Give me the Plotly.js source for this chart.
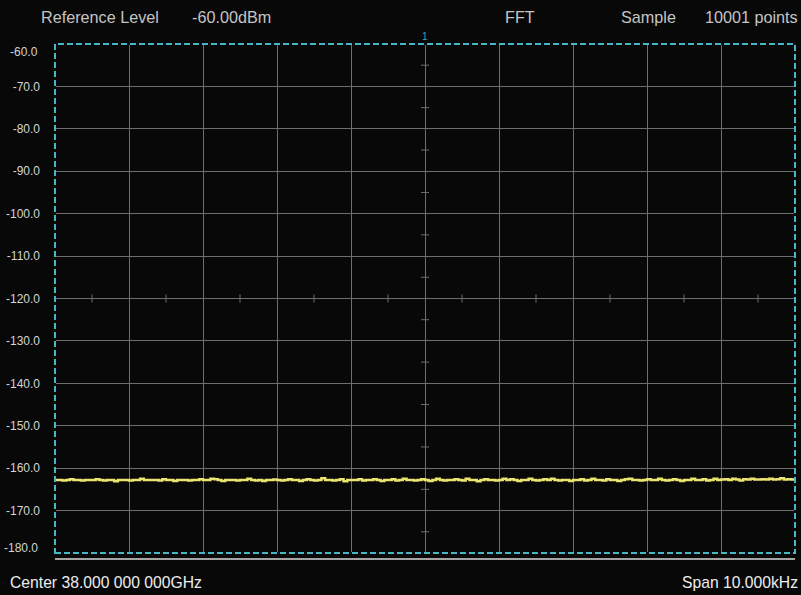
<!DOCTYPE html>
<html>
<head>
<meta charset="utf-8">
<script src="https://cdn.plot.ly/plotly-3.0.1.min.js"></script>
<style>
  html, body { margin: 0; padding: 0; background: #080808; }
  #chart { width: 801px; height: 595px; }
</style>
</head>
<body>
<div id="chart"></div>
<script>
// ---- Data ----
const centerHz = 38e9;          // Center 38.000 000 000GHz
const spanHz = 10000;           // Span 10.000kHz
const refLevel = -60;           // Reference Level -60.00dBm
const bottomLevel = -180;
const yTickValues = [-60, -70, -80, -90, -100, -110, -120, -130, -140, -150, -160, -170, -180];
const yTickLabels = ["-60.0", "-70.0", "-80.0", "-90.0", "-100.0", "-110.0", "-120.0", "-130.0", "-140.0", "-150.0", "-160.0", "-170.0", "-180.0"];
const headerLabels = ["Reference Level", "-60.00dBm", "FFT", "Sample", "10001 points"];
const footerLeft = "Center 38.000 000 000GHz";
const footerRight = "Span 10.000kHz";

// Trace levels (dBm), decimated reading of the noise floor, left to right
const traceLevels = [
  -162.8,-162.8,-162.9,-162.8,-162.6,-162.8,-162.8,-162.9,-162.8,-162.8,
  -162.8,-162.6,-162.8,-162.9,-162.8,-162.8,-163.1,-162.8,-162.8,-162.8,
  -162.9,-162.8,-162.8,-162.5,-162.8,-162.8,-162.8,-162.8,-162.9,-162.6,
  -162.8,-162.8,-163.0,-162.8,-162.8,-162.8,-162.9,-162.8,-162.8,-162.6,
  -162.8,-162.8,-162.5,-162.6,-162.8,-163.0,-162.8,-162.8,-162.8,-162.9,
  -162.8,-162.8,-162.5,-162.8,-162.9,-162.8,-163.0,-162.8,-162.8,-162.7,
  -162.8,-162.9,-162.8,-162.6,-162.8,-162.8,-163.0,-162.8,-162.6,-162.8,
  -162.9,-162.8,-162.4,-162.8,-162.8,-162.9,-162.8,-162.6,-163.1,-162.8,
  -162.8,-162.8,-162.6,-162.9,-162.8,-162.8,-162.6,-162.8,-163.0,-162.8,
  -162.8,-162.6,-162.9,-162.8,-162.5,-162.8,-162.8,-162.9,-162.8,-162.6,
  -162.8,-163.0,-162.8,-162.5,-162.8,-162.9,-162.8,-162.8,-162.6,-162.8,
  -162.9,-162.5,-162.8,-162.8,-163.1,-162.8,-162.6,-162.8,-162.8,-162.9,
  -162.8,-162.5,-162.8,-162.6,-162.8,-163.0,-162.8,-162.8,-162.5,-162.8,
  -162.9,-162.8,-162.6,-162.8,-162.5,-162.8,-162.9,-162.8,-162.8,-163.0,
  -162.8,-162.8,-162.6,-162.9,-162.8,-162.5,-162.8,-162.8,-162.9,-162.6,
  -162.8,-162.8,-163.0,-162.8,-162.6,-162.5,-162.8,-162.8,-162.9,-162.8,
  -162.6,-162.8,-162.8,-162.5,-162.8,-162.9,-162.8,-162.6,-162.8,-163.0,
  -162.8,-162.8,-162.5,-162.8,-162.8,-162.6,-162.9,-162.8,-162.5,-162.8,
  -162.7,-162.6,-162.8,-162.5,-162.7,-162.9,-162.6,-162.7,-162.5,-162.7,
  -162.7,-162.6,-162.7,-162.5,-162.7,-162.6,-162.4,-162.7,-162.6,-162.7,
  -162.6
];

// ---- Sweep frequencies (offset from centre, Hz) ----
const startOffset = -spanHz / 2;
const stepHz = spanHz / (traceLevels.length - 1);
const freqOffsets = traceLevels.map((_, i) => startOffset + i * stepHz);

const gridColor = "#6e6e6e";
const cyan = "#45b8c8";
const font = "Liberation Sans, Arial, sans-serif";

// graticule minor ticks (half-division marks on centre lines)
const divX = spanHz / 10;
const divY = 10;
const shapes = [];
for (let k = 0; k < 12; k++) {
  const yv = refLevel - divY / 2 - k * divY;
  shapes.push({type: "line", xref: "x", yref: "y", x0: -divX * 0.054, x1: divX * 0.054, y0: yv, y1: yv,
               line: {color: gridColor, width: 1}, layer: "below"});
}
for (let k = 0; k < 10; k++) {
  const xv = startOffset + divX / 2 + k * divX;
  shapes.push({type: "line", xref: "x", yref: "y", x0: xv, x1: xv, y0: -120 - 0.95, y1: -120 + 0.95,
               line: {color: gridColor, width: 1}, layer: "below"});
}
// border: black underlay then cyan dashes
shapes.push({type: "rect", xref: "paper", yref: "paper", x0: 0, x1: 1, y0: 0, y1: 1,
             line: {color: "#080808", width: 2}, layer: "above"});
shapes.push({type: "rect", xref: "paper", yref: "paper", x0: 0, x1: 1, y0: 0, y1: 1,
             line: {color: cyan, width: 2, dash: "6px,3px"}, layer: "above"});
// white line under the graticule
shapes.push({type: "line", xref: "paper", yref: "paper", x0: 0, x1: 1, y0: -0.012, y1: -0.012,
             line: {color: "#d8d8d8", width: 1.5}});

const headerX = [39, 190, 503, 619, 703];
const annotations = headerLabels.map((t, i) => ({
  text: t, xref: "paper", yref: "paper",
  x: (headerX[i] - 55) / 740, y: 1 + (43.5 - 16) / 509.5,
  xanchor: "left", yanchor: "middle", showarrow: false,
  font: {family: font, size: 16.2, color: "#c4c4c4"}
}));
annotations.push({text: footerLeft, xref: "paper", yref: "paper",
  x: (8 - 55) / 740, y: -(583 - 553) / 509.5, xanchor: "left", yanchor: "middle", showarrow: false,
  font: {family: font, size: 15.7, color: "#eeeeee"}});
annotations.push({text: footerRight, xref: "paper", yref: "paper",
  x: (800 - 55) / 740, y: -(583 - 553) / 509.5, xanchor: "right", yanchor: "middle", showarrow: false,
  font: {family: font, size: 15.7, color: "#eeeeee"}});
annotations.push({text: "1", xref: "x", yref: "paper", x: 0, y: 1, yanchor: "bottom", xanchor: "center",
  showarrow: false, yshift: 0, font: {family: font, size: 10, color: "#3aa3b3"}});
// end tick labels sit inside the graticule edges on the instrument
const lastIdx = yTickValues.length - 1;
[[0, -7.5], [lastIdx, 5]].forEach(([idx, shift]) => {
  annotations.push({text: yTickLabels[idx], xref: "paper", yref: "y", x: (40 - 55) / 740, y: yTickValues[idx],
    xanchor: "right", yanchor: "middle", yshift: shift, showarrow: false,
    font: {family: font, size: 12, color: "#d4d4d4"}});
});
const axisTickText = yTickLabels.map((t, i) => (i === 0 || i === lastIdx) ? "" : t);

const trace = {
  x: freqOffsets, y: traceLevels, type: "scatter", mode: "lines",
  line: {color: "#ece470", width: 2.5, shape: "hv"}, hoverinfo: "x+y"
};

const layout = {
  width: 801, height: 595,
  margin: {l: 55, r: 6, t: 43.5, b: 42, pad: 0},
  paper_bgcolor: "#080808", plot_bgcolor: "#080808",
  showlegend: false,
  xaxis: {
    range: [startOffset, -startOffset], tick0: startOffset, dtick: divX,
    showgrid: true, gridcolor: gridColor, gridwidth: 1, zeroline: false,
    showticklabels: false, ticks: "", showline: false, fixedrange: true
  },
  yaxis: {
    range: [bottomLevel, refLevel], tickvals: yTickValues, ticktext: axisTickText,
    showgrid: true, gridcolor: gridColor, gridwidth: 1, zeroline: false,
    ticks: "", ticklabelstandoff: 14, showline: false,
    tickfont: {family: font, size: 12, color: "#d4d4d4"}, fixedrange: true
  },
  shapes: shapes,
  annotations: annotations
};

Plotly.newPlot("chart", [trace], layout, {displayModeBar: false, staticPlot: true});
</script>
</body>
</html>
